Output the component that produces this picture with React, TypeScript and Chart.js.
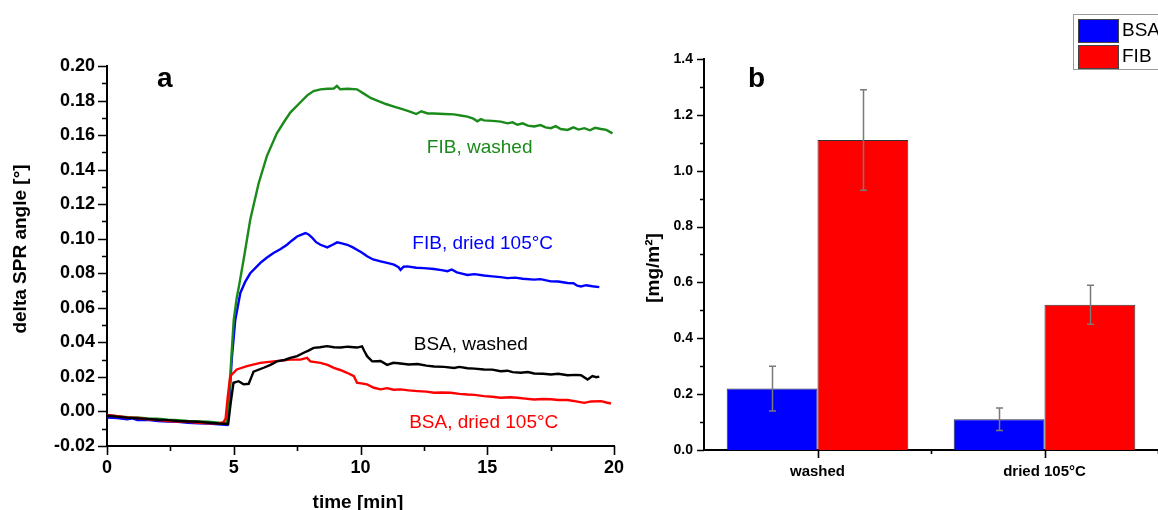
import { useEffect, useRef } from "react";
import { Chart, registerables } from "chart.js";

Chart.register(...registerables);

const FONT = "'Liberation Sans', Arial, Helvetica, sans-serif";

// ---------- Panel a: SPR kinetics (time [min], delta SPR angle [°]) ----------
const fibWashed: [number, number][] = [
  [0, -0.002], [0.4, -0.0028], [0.8, -0.0033], [1.2, -0.0035], [1.6, -0.004], [2.0, -0.0042],
  [2.4, -0.0048], [2.8, -0.005], [3.2, -0.0055], [3.6, -0.0058], [4.0, -0.006], [4.4, -0.0065],
  [4.72, -0.0068], [4.8, 0.005], [4.9, 0.03], [5.0, 0.053], [5.12, 0.066], [5.2, 0.072],
  [5.39, 0.088], [5.65, 0.111], [5.98, 0.132], [6.31, 0.148], [6.7, 0.161], [7.0, 0.168],
  [7.23, 0.173], [7.63, 0.179], [7.9, 0.183], [8.15, 0.1855], [8.42, 0.1865], [8.7, 0.1868],
  [8.95, 0.187], [9.07, 0.1885], [9.2, 0.1865], [9.5, 0.1868], [9.86, 0.1865], [10.13, 0.184],
  [10.4, 0.1815], [10.66, 0.18], [11.0, 0.178], [11.32, 0.1765], [11.65, 0.175], [11.98, 0.1735],
  [12.2, 0.1722], [12.4, 0.1738], [12.65, 0.1725], [12.9, 0.1725], [13.3, 0.1722], [13.69, 0.172],
  [14.0, 0.1712], [14.22, 0.1707], [14.45, 0.1695], [14.61, 0.168], [14.75, 0.1692], [14.87, 0.1685],
  [15.2, 0.1682], [15.53, 0.1678], [15.8, 0.1668], [16.0, 0.1674], [16.19, 0.166], [16.4, 0.1668],
  [16.6, 0.1655], [16.85, 0.165], [17.1, 0.1658], [17.3, 0.1645], [17.51, 0.164], [17.7, 0.1652],
  [17.9, 0.1635], [18.17, 0.163], [18.4, 0.1645], [18.6, 0.1632], [18.83, 0.164], [19.05, 0.1628],
  [19.25, 0.1642], [19.49, 0.1635], [19.7, 0.163], [19.94, 0.161],
];

const fibDried: [number, number][] = [
  [0, -0.0035], [0.4, -0.0038], [0.8, -0.0045], [1.0, -0.004], [1.2, -0.005], [1.6, -0.0048],
  [2.0, -0.0055], [2.4, -0.0058], [2.8, -0.006], [3.2, -0.0065], [3.6, -0.0068], [4.0, -0.007],
  [4.4, -0.0075], [4.75, -0.0078], [4.82, 0.005], [4.92, 0.03], [5.06, 0.053], [5.26, 0.0686],
  [5.45, 0.075], [5.65, 0.08], [6.05, 0.086], [6.3, 0.089], [6.57, 0.0917], [6.85, 0.094],
  [7.1, 0.0965], [7.3, 0.099], [7.5, 0.1013], [7.7, 0.1025], [7.83, 0.1033], [7.95, 0.1025],
  [8.1, 0.1005], [8.25, 0.098], [8.42, 0.0965], [8.69, 0.095], [8.9, 0.0965], [9.08, 0.0979],
  [9.3, 0.0972], [9.48, 0.0965], [9.7, 0.095], [9.86, 0.0936], [10.05, 0.092], [10.26, 0.0898],
  [10.5, 0.088], [10.79, 0.0869], [11.05, 0.086], [11.32, 0.085], [11.5, 0.0835], [11.58, 0.082],
  [11.7, 0.0838], [11.85, 0.084], [12.2, 0.0832], [12.5, 0.083], [12.9, 0.0825], [13.2, 0.0818],
  [13.43, 0.0812], [13.6, 0.0822], [13.8, 0.0805], [14.0, 0.0798], [14.22, 0.079], [14.5, 0.0795],
  [14.87, 0.0787], [15.2, 0.0782], [15.53, 0.0778], [15.8, 0.0772], [16.1, 0.0775], [16.4, 0.0768],
  [16.85, 0.0763], [17.1, 0.0766], [17.51, 0.0753], [17.8, 0.0752], [18.17, 0.0744], [18.4, 0.0742],
  [18.55, 0.0728], [18.7, 0.0724], [18.9, 0.0731], [19.15, 0.0725], [19.42, 0.072],
];

const bsaWashed: [number, number][] = [
  [0, -0.0025], [0.4, -0.003], [0.8, -0.0036], [1.2, -0.004], [1.6, -0.0043], [2.0, -0.0048],
  [2.4, -0.005], [2.8, -0.0055], [3.2, -0.0058], [3.6, -0.006], [4.0, -0.0065], [4.4, -0.007],
  [4.78, -0.0072], [4.88, 0.005], [4.99, 0.0166], [5.19, 0.0175], [5.39, 0.0157], [5.59, 0.016],
  [5.7, 0.02], [5.78, 0.023], [6.18, 0.0253], [6.45, 0.027], [6.7, 0.029], [7.0, 0.0298],
  [7.23, 0.031], [7.5, 0.032], [7.76, 0.034], [7.95, 0.0352], [8.15, 0.0368], [8.4, 0.0372],
  [8.68, 0.0378], [8.95, 0.0372], [9.21, 0.037], [9.5, 0.0375], [9.86, 0.037], [10.06, 0.0377],
  [10.15, 0.035], [10.26, 0.032], [10.46, 0.029], [10.79, 0.0292], [11.05, 0.027], [11.3, 0.0282],
  [11.58, 0.0278], [11.9, 0.0272], [12.25, 0.0275], [12.6, 0.0265], [12.9, 0.026], [13.3, 0.0258],
  [13.69, 0.0252], [13.9, 0.0258], [14.22, 0.025], [14.5, 0.0248], [14.87, 0.0243], [15.2, 0.0242],
  [15.53, 0.0233], [15.8, 0.0236], [16.0, 0.0228], [16.32, 0.0224], [16.6, 0.0228], [16.85, 0.022],
  [17.2, 0.0218], [17.51, 0.0214], [17.8, 0.0218], [18.17, 0.021], [18.5, 0.0212], [18.7, 0.021],
  [18.96, 0.0185], [19.15, 0.0205], [19.3, 0.0198], [19.42, 0.0202],
];

const bsaDried: [number, number][] = [
  [0, -0.002], [0.4, -0.0028], [0.8, -0.0035], [1.2, -0.0038], [1.6, -0.0045], [2.0, -0.005],
  [2.4, -0.0055], [2.8, -0.0058], [3.2, -0.006], [3.6, -0.0065], [4.0, -0.0068], [4.4, -0.007],
  [4.6, -0.0062], [4.68, -0.004], [4.76, 0.008], [4.86, 0.0204], [5.12, 0.0243], [5.52, 0.0262],
  [6.05, 0.0281], [6.57, 0.029], [7.23, 0.03], [7.63, 0.03], [7.89, 0.031], [8.02, 0.029],
  [8.42, 0.0281], [8.7, 0.027], [8.95, 0.0252], [9.2, 0.024], [9.47, 0.0224], [9.74, 0.0204],
  [9.86, 0.0166], [10.26, 0.0157], [10.53, 0.0137], [10.79, 0.0128], [11.05, 0.0135], [11.3, 0.0126],
  [11.58, 0.0128], [11.9, 0.0122], [12.25, 0.0118], [12.6, 0.0115], [12.9, 0.0108], [13.2, 0.011],
  [13.56, 0.0108], [13.9, 0.0102], [14.22, 0.0098], [14.5, 0.0096], [14.87, 0.0089], [15.2, 0.0085],
  [15.53, 0.0079], [15.9, 0.0082], [16.19, 0.0079], [16.5, 0.0074], [16.85, 0.0069], [17.2, 0.0072],
  [17.51, 0.0071], [17.8, 0.0066], [18.17, 0.0066], [18.5, 0.0058], [18.83, 0.005], [19.1, 0.0058],
  [19.49, 0.006], [19.7, 0.0052], [19.88, 0.0046],
];

// curve annotations (text, colour, anchor in data units)
const curveLabels = [
  { text: "FIB, washed", color: "#1a8a1a", t: 14.7, v: 0.1526 },
  { text: "FIB, dried 105°C", color: "#0000ff", t: 14.82, v: 0.0971 },
  { text: "BSA, washed", color: "#000000", t: 14.35, v: 0.0387 },
  { text: "BSA, dried 105°C", color: "#ff0000", t: 14.86, v: -0.0064 },
];

// ---------- Panel b: adsorbed amount ----------
const barCategories = ["washed", "dried 105°C"];
const bsaAmount = [0.22, 0.11];
const bsaError = [0.08, 0.04];
const fibAmount = [1.11, 0.52];
const fibError = [0.18, 0.07];

// ---------- helper plugins ----------
type TickSpec =
  | { id: string; kind: "linear"; min: number; max: number; minor: number; major: number; majorLen: number; minorLen: number }
  | { id: string; kind: "category"; count: number; majorLen: number; minorLen: number };

function ticksPlugin(specs: TickSpec[]) {
  return {
    id: "customTicks",
    afterDraw(chart: any) {
      const ctx = chart.ctx as CanvasRenderingContext2D;
      const area = chart.chartArea;
      ctx.save();
      ctx.strokeStyle = "#000";
      ctx.lineWidth = 1.6;
      for (const s of specs) {
        const scale = chart.scales[s.id];
        const horizontal = scale.isHorizontal();
        const marks: { p: number; len: number }[] = [];
        if (s.kind === "linear") {
          const n = Math.round((s.max - s.min) / s.minor);
          for (let i = 0; i <= n; i++) {
            const v = s.min + i * s.minor;
            const r = v / s.major;
            const isMajor = Math.abs(r - Math.round(r)) < 1e-6;
            marks.push({ p: scale.getPixelForValue(v), len: isMajor ? s.majorLen : s.minorLen });
          }
        } else {
          for (let i = 0; i < s.count; i++) marks.push({ p: scale.getPixelForValue(i), len: s.majorLen });
          for (let i = 0; i < s.count; i++) marks.push({ p: scale.getPixelForValue(i + 0.5), len: s.minorLen });
        }
        ctx.beginPath();
        for (const m of marks) {
          const p = Math.round(m.p) + 0.5;
          if (horizontal) {
            ctx.moveTo(p, area.bottom);
            ctx.lineTo(p, area.bottom + m.len);
          } else {
            ctx.moveTo(area.left, p);
            ctx.lineTo(area.left - m.len, p);
          }
        }
        ctx.stroke();
      }
      ctx.restore();
    },
  };
}

type TextItem = { text: string; x: number; y: number; font: string; color: string; rotate?: boolean; align?: CanvasTextAlign; baseline?: CanvasTextBaseline };

function textPlugin(items: TextItem[]) {
  return {
    id: "staticText",
    afterDraw(chart: any) {
      const ctx = chart.ctx as CanvasRenderingContext2D;
      for (const it of items) {
        ctx.save();
        ctx.fillStyle = it.color;
        ctx.font = it.font;
        ctx.textAlign = it.align ?? "center";
        ctx.textBaseline = it.baseline ?? "middle";
        ctx.translate(it.x, it.y);
        if (it.rotate) ctx.rotate(-Math.PI / 2);
        ctx.fillText(it.text, 0, 0);
        ctx.restore();
      }
    },
  };
}

const curveLabelPlugin = {
  id: "curveLabels",
  afterDatasetsDraw(chart: any) {
    const ctx = chart.ctx as CanvasRenderingContext2D;
    const xs = chart.scales.x;
    const ys = chart.scales.y;
    ctx.save();
    ctx.font = `19px ${FONT}`;
    ctx.textAlign = "center";
    ctx.textBaseline = "middle";
    for (const l of curveLabels) {
      ctx.fillStyle = l.color;
      ctx.fillText(l.text, xs.getPixelForValue(l.t), ys.getPixelForValue(l.v));
    }
    ctx.restore();
  },
};

const errorBarPlugin = {
  id: "errorBars",
  afterDatasetsDraw(chart: any) {
    const ctx = chart.ctx as CanvasRenderingContext2D;
    const ys = chart.scales.y;
    ctx.save();
    ctx.strokeStyle = "#7a7a7a";
    ctx.lineWidth = 1.5;
    chart.data.datasets.forEach((ds: any, di: number) => {
      const meta = chart.getDatasetMeta(di);
      const errs: number[] = ds.errors || [];
      meta.data.forEach((bar: any, i: number) => {
        const v = ds.data[i];
        const e = errs[i] ?? 0;
        const x = Math.round(bar.x) + 0.5;
        const yTop = ys.getPixelForValue(v + e);
        const yBot = ys.getPixelForValue(v - e);
        ctx.beginPath();
        ctx.moveTo(x, yTop);
        ctx.lineTo(x, yBot);
        ctx.moveTo(x - 3.5, yTop);
        ctx.lineTo(x + 3.5, yTop);
        ctx.moveTo(x - 3.5, yBot);
        ctx.lineTo(x + 3.5, yBot);
        ctx.stroke();
      });
    });
    ctx.restore();
  },
};

const barLegendPlugin = {
  id: "barLegend",
  afterDraw(chart: any) {
    const ctx = chart.ctx as CanvasRenderingContext2D;
    const x0 = 433;
    const y0 = 14;
    ctx.save();
    ctx.fillStyle = "#fff";
    ctx.fillRect(x0, y0, 120, 55);
    ctx.strokeStyle = "#9a9a9a";
    ctx.lineWidth = 1;
    ctx.strokeRect(x0 + 0.5, y0 + 0.5, 120, 55);
    chart.data.datasets.forEach((ds: any, i: number) => {
      const sy = y0 + 5 + i * 26;
      ctx.fillStyle = ds.backgroundColor;
      ctx.fillRect(x0 + 5, sy, 40, 23);
      ctx.strokeStyle = "#444";
      ctx.strokeRect(x0 + 5.5, sy + 0.5, 40, 23);
      ctx.fillStyle = "#000";
      ctx.font = `19px ${FONT}`;
      ctx.textAlign = "left";
      ctx.textBaseline = "middle";
      ctx.fillText(ds.label, x0 + 49, sy + 12);
    });
    ctx.restore();
  },
};

export default function App() {
  const leftRef = useRef<HTMLCanvasElement | null>(null);
  const rightRef = useRef<HTMLCanvasElement | null>(null);

  useEffect(() => {
    if (!leftRef.current || !rightRef.current) return;
    const toXY = (arr: [number, number][]) => arr.map(([x, y]) => ({ x, y }));
    const lineDs = (label: string, arr: [number, number][], color: string) => ({
      label,
      data: toXY(arr),
      borderColor: color,
      backgroundColor: color,
      borderWidth: 2.4,
      pointRadius: 0,
      tension: 0,
      fill: false,
    });
    const axisBorder = { display: true, color: "#000", width: 2 };

    const left = new Chart(leftRef.current, {
      type: "line",
      data: {
        datasets: [
          lineDs("BSA, washed", bsaWashed, "#000000"),
          lineDs("BSA, dried 105°C", bsaDried, "#ff0000"),
          lineDs("FIB, washed", fibWashed, "#1a8a1a"),
          lineDs("FIB, dried 105°C", fibDried, "#0000ff"),
        ],
      },
      options: {
        animation: false,
        responsive: false,
        maintainAspectRatio: false,
        layout: { padding: { top: 66, right: 26, left: 0, bottom: 0 } },
        plugins: { legend: { display: false }, tooltip: { enabled: false } },
        scales: {
          x: {
            type: "linear",
            min: 0,
            max: 20,
            ticks: { stepSize: 5, color: "#000", padding: 11, maxRotation: 0, font: { family: FONT, size: 18, weight: "bold" } },
            grid: { display: false, drawTicks: false },
            border: axisBorder,
            afterFit: (s: any) => { s.height = 64; },
          },
          y: {
            type: "linear",
            min: -0.02,
            max: 0.2,
            ticks: {
              stepSize: 0.02,
              color: "#000",
              padding: 12,
              font: { family: FONT, size: 18, weight: "bold" },
              callback: (v: any) => Number(v).toFixed(2),
            },
            grid: { display: false, drawTicks: false },
            border: axisBorder,
            afterFit: (s: any) => { s.width = 107; },
          },
        },
      },
      plugins: [
        ticksPlugin([
          { id: "x", kind: "linear", min: 0, max: 20, minor: 2.5, major: 5, majorLen: 9, minorLen: 5 },
          { id: "y", kind: "linear", min: -0.02, max: 0.2, minor: 0.01, major: 0.02, majorLen: 9, minorLen: 5 },
        ]),
        curveLabelPlugin,
        textPlugin([
          { text: "delta SPR angle [°]", x: 21, y: 249, font: `bold 19px ${FONT}`, color: "#000", rotate: true },
          { text: "time [min]", x: 358, y: 503, font: `bold 19px ${FONT}`, color: "#000" },
          { text: "a", x: 157, y: 87, font: `bold 28px ${FONT}`, color: "#000", align: "left", baseline: "alphabetic" },
        ]),
      ],
    } as any);

    const right = new Chart(rightRef.current, {
      type: "bar",
      data: {
        labels: barCategories,
        datasets: [
          { label: "BSA", data: bsaAmount, errors: bsaError, backgroundColor: "#0000ff", borderColor: "#333", borderWidth: 1 } as any,
          { label: "FIB", data: fibAmount, errors: fibError, backgroundColor: "#ff0000", borderColor: "#333", borderWidth: 1 } as any,
        ],
      },
      options: {
        animation: false,
        responsive: false,
        maintainAspectRatio: false,
        layout: { padding: { top: 59, right: 0, left: 0, bottom: 0 } },
        plugins: { legend: { display: false }, tooltip: { enabled: false } },
        datasets: { bar: { categoryPercentage: 0.8, barPercentage: 1.0 } },
        scales: {
          x: {
            type: "category",
            ticks: { color: "#000", padding: 13, maxRotation: 0, font: { family: FONT, size: 15, weight: "bold" } },
            grid: { display: false, drawTicks: false },
            border: axisBorder,
            afterFit: (s: any) => { s.height = 60; },
          },
          y: {
            type: "linear",
            min: 0,
            max: 1.4,
            ticks: {
              stepSize: 0.2,
              color: "#000",
              padding: 11,
              font: { family: FONT, size: 14, weight: "bold" },
              callback: (v: any) => Number(v).toFixed(1),
            },
            grid: { display: false, drawTicks: false },
            border: axisBorder,
            afterFit: (s: any) => { s.width = 64; },
          },
        },
      },
      plugins: [
        errorBarPlugin,
        ticksPlugin([
          { id: "x", kind: "category", count: barCategories.length, majorLen: 8, minorLen: 4 },
          { id: "y", kind: "linear", min: 0, max: 1.4, minor: 0.1, major: 0.2, majorLen: 7, minorLen: 4 },
        ]),
        textPlugin([
          { text: "[mg/m²]", x: 14, y: 268, font: `bold 19px ${FONT}`, color: "#000", rotate: true },
          { text: "b", x: 108, y: 87, font: `bold 28px ${FONT}`, color: "#000", align: "left", baseline: "alphabetic" },
        ]),
        barLegendPlugin,
      ],
    } as any);

    return () => {
      left.destroy();
      right.destroy();
    };
  }, []);

  return (
    <div style={{ position: "absolute", left: 0, top: 0, width: 1158, height: 510, background: "#fff", overflow: "hidden" }}>
      <canvas ref={leftRef} width={640} height={510} style={{ position: "absolute", left: 0, top: 0, width: 640, height: 510 }} />
      <canvas ref={rightRef} width={518} height={510} style={{ position: "absolute", left: 640, top: 0, width: 518, height: 510 }} />
    </div>
  );
}
